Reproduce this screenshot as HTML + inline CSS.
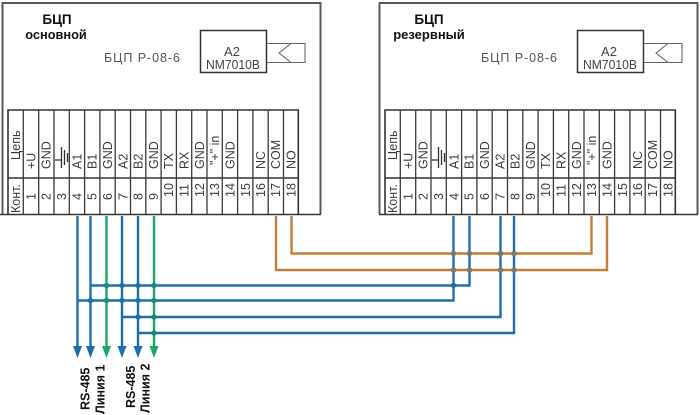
<!DOCTYPE html>
<html><head><meta charset="utf-8"><style>
html,body{margin:0;padding:0;background:#fff}
svg{display:block}
text{font-family:"Liberation Sans",sans-serif}
.t{font-size:12.5px;fill:#3c3c3c;stroke:none}
.b{font-weight:bold;fill:#111;stroke:none}
.g{font-size:12.5px;fill:#555;letter-spacing:.95px}
.a{font-size:13px;fill:#444;text-anchor:middle}
</style></head><body>
<svg width="700" height="415" viewBox="0 0 700 415" xmlns="http://www.w3.org/2000/svg">
<rect width="700" height="415" fill="#fff"/>

<!-- LEFT PANEL -->
<g>
<path d="M2.5 214V3H320.5V214" fill="none" stroke="#5a5a5a" stroke-width="2"/>
<path d="M0 214.5H321" stroke="#333" stroke-width="1.5"/>
<path d="M8 214V110H298.3V214M8 178H298.3" fill="none" stroke="#333" stroke-width="1.6"/>
<path d="M23.3 110V214M38.7 110V214M54 110V214M69.3 110V214M84.6 110V214M99.9 110V214M115.2 110V214M130.5 110V214M145.8 110V214M161.1 110V214M176.4 110V214M191.7 110V214M207 110V214M222.3 110V214M237.6 110V214M252.9 110V214M268.2 110V214M283.5 110V214" stroke="#3a3a3a" stroke-width="1.3" fill="none"/>
<text class="b" x="57" y="24" font-size="13.5" text-anchor="middle">БЦП</text>
<text class="b" x="56" y="39" font-size="12.8" text-anchor="middle">основной</text>
<text class="g" x="104" y="62">БЦП Р-08-6</text>
<rect x="200.5" y="30.5" width="66" height="42" fill="#fff" stroke="#333" stroke-width="1.5"/>
<text class="a" x="232" y="56">A2</text>
<text class="a" x="233" y="69" textLength="54" lengthAdjust="spacingAndGlyphs">NM7010B</text>
<path d="M267 43.5H305V62.5H267" fill="none" stroke="#666" stroke-width="1.1"/>
<path d="M291 43.5L279 53L291 62.5" fill="none" stroke="#666" stroke-width="1.1"/>
<text class="t" transform="translate(20,160) rotate(-90)">Цепь</text>
<text class="t" transform="translate(35.5,169) rotate(-90)">+U</text>
<text class="t" transform="translate(50.5,169) rotate(-90)">GND</text>
<text class="t" transform="translate(81.5,169) rotate(-90)">A1</text>
<text class="t" transform="translate(96.5,169) rotate(-90)">B1</text>
<text class="t" transform="translate(112,169) rotate(-90)">GND</text>
<text class="t" transform="translate(127.5,169) rotate(-90)">A2</text>
<text class="t" transform="translate(142.5,169) rotate(-90)">B2</text>
<text class="t" transform="translate(158,169) rotate(-90)">GND</text>
<text class="t" transform="translate(173,169) rotate(-90)">TX</text>
<text class="t" transform="translate(188.5,169) rotate(-90)">RX</text>
<text class="t" transform="translate(204,169) rotate(-90)">GND</text>
<text class="t" transform="translate(219,165) rotate(-90)">"+" in</text>
<text class="t" transform="translate(234.5,169) rotate(-90)">GND</text>
<text class="t" transform="translate(265,169) rotate(-90)">NC</text>
<text class="t" transform="translate(280,169) rotate(-90)">COM</text>
<text class="t" transform="translate(295.5,169) rotate(-90)">NO</text>
<text class="t" transform="translate(20,213) rotate(-90)">Конт.</text>
<text class="t" transform="translate(35.5,200) rotate(-90)">1</text>
<text class="t" transform="translate(50.5,200) rotate(-90)">2</text>
<text class="t" transform="translate(66,200) rotate(-90)">3</text>
<text class="t" transform="translate(81.5,200) rotate(-90)">4</text>
<text class="t" transform="translate(96.5,200) rotate(-90)">5</text>
<text class="t" transform="translate(112,200) rotate(-90)">6</text>
<text class="t" transform="translate(127.5,200) rotate(-90)">7</text>
<text class="t" transform="translate(142.5,200) rotate(-90)">8</text>
<text class="t" transform="translate(158,200) rotate(-90)">9</text>
<text class="t" transform="translate(173,197) rotate(-90)">10</text>
<text class="t" transform="translate(188.5,197) rotate(-90)">11</text>
<text class="t" transform="translate(204,197) rotate(-90)">12</text>
<text class="t" transform="translate(219,197) rotate(-90)">13</text>
<text class="t" transform="translate(234.5,197) rotate(-90)">14</text>
<text class="t" transform="translate(250,197) rotate(-90)">15</text>
<text class="t" transform="translate(265,197) rotate(-90)">16</text>
<text class="t" transform="translate(280,197) rotate(-90)">17</text>
<text class="t" transform="translate(295.5,197) rotate(-90)">18</text>
<path d="M55 160H61.5M61.5 147V168M64.5 150V165M67.5 153V162" fill="none" stroke="#333" stroke-width="1.3"/>
</g>

<!-- RIGHT PANEL -->
<g transform="translate(377,0)">
<path d="M2.5 214V3H320.5V214" fill="none" stroke="#5a5a5a" stroke-width="2"/>
<path d="M2 214.5H321" stroke="#333" stroke-width="1.5"/>
<path d="M8 214V110H298.3V214M8 178H298.3" fill="none" stroke="#333" stroke-width="1.6"/>
<path d="M23.3 110V214M38.7 110V214M54 110V214M69.3 110V214M84.6 110V214M99.9 110V214M115.2 110V214M130.5 110V214M145.8 110V214M161.1 110V214M176.4 110V214M191.7 110V214M207 110V214M222.3 110V214M237.6 110V214M252.9 110V214M268.2 110V214M283.5 110V214" stroke="#3a3a3a" stroke-width="1.3" fill="none"/>
<text class="b" x="52" y="24" font-size="13.5" text-anchor="middle">БЦП</text>
<text class="b" x="52" y="39" font-size="13" text-anchor="middle">резервный</text>
<text class="g" x="104" y="62">БЦП Р-08-6</text>
<rect x="200.5" y="30.5" width="66" height="42" fill="#fff" stroke="#333" stroke-width="1.5"/>
<text class="a" x="232" y="56">A2</text>
<text class="a" x="233" y="69" textLength="54" lengthAdjust="spacingAndGlyphs">NM7010B</text>
<path d="M267 43.5H305V62.5H267" fill="none" stroke="#666" stroke-width="1.1"/>
<path d="M291 43.5L279 53L291 62.5" fill="none" stroke="#666" stroke-width="1.1"/>
<text class="t" transform="translate(20,160) rotate(-90)">Цепь</text>
<text class="t" transform="translate(35.5,169) rotate(-90)">+U</text>
<text class="t" transform="translate(50.5,169) rotate(-90)">GND</text>
<text class="t" transform="translate(81.5,169) rotate(-90)">A1</text>
<text class="t" transform="translate(96.5,169) rotate(-90)">B1</text>
<text class="t" transform="translate(112,169) rotate(-90)">GND</text>
<text class="t" transform="translate(127.5,169) rotate(-90)">A2</text>
<text class="t" transform="translate(142.5,169) rotate(-90)">B2</text>
<text class="t" transform="translate(158,169) rotate(-90)">GND</text>
<text class="t" transform="translate(173,169) rotate(-90)">TX</text>
<text class="t" transform="translate(188.5,169) rotate(-90)">RX</text>
<text class="t" transform="translate(204,169) rotate(-90)">GND</text>
<text class="t" transform="translate(219,165) rotate(-90)">"+" in</text>
<text class="t" transform="translate(234.5,169) rotate(-90)">GND</text>
<text class="t" transform="translate(265,169) rotate(-90)">NC</text>
<text class="t" transform="translate(280,169) rotate(-90)">COM</text>
<text class="t" transform="translate(295.5,169) rotate(-90)">NO</text>
<text class="t" transform="translate(20,213) rotate(-90)">Конт.</text>
<text class="t" transform="translate(35.5,200) rotate(-90)">1</text>
<text class="t" transform="translate(50.5,200) rotate(-90)">2</text>
<text class="t" transform="translate(66,200) rotate(-90)">3</text>
<text class="t" transform="translate(81.5,200) rotate(-90)">4</text>
<text class="t" transform="translate(96.5,200) rotate(-90)">5</text>
<text class="t" transform="translate(112,200) rotate(-90)">6</text>
<text class="t" transform="translate(127.5,200) rotate(-90)">7</text>
<text class="t" transform="translate(142.5,200) rotate(-90)">8</text>
<text class="t" transform="translate(158,200) rotate(-90)">9</text>
<text class="t" transform="translate(173,197) rotate(-90)">10</text>
<text class="t" transform="translate(188.5,197) rotate(-90)">11</text>
<text class="t" transform="translate(204,197) rotate(-90)">12</text>
<text class="t" transform="translate(219,197) rotate(-90)">13</text>
<text class="t" transform="translate(234.5,197) rotate(-90)">14</text>
<text class="t" transform="translate(250,197) rotate(-90)">15</text>
<text class="t" transform="translate(265,197) rotate(-90)">16</text>
<text class="t" transform="translate(280,197) rotate(-90)">17</text>
<text class="t" transform="translate(295.5,197) rotate(-90)">18</text>
<path d="M55 160H61.5M61.5 147V168M64.5 150V165M67.5 153V162" fill="none" stroke="#333" stroke-width="1.3"/>
</g>

<!-- ORANGE WIRES -->
<g fill="none" stroke="#c57c3a" stroke-width="2.4">
<path d="M291.5 216V253.5H591.5V216"/>
<path d="M276 216V270H607V216"/>
</g>

<!-- BLUE WIRES -->
<g fill="none" stroke="#1f6eaa" stroke-width="2.4">
<path d="M90.5 347V216"/>
<path d="M77.5 347V216"/>
<path d="M122 347V216"/>
<path d="M138 347V216"/>
<path d="M90.5 285.5H469.5V216"/>
<path d="M77.5 300.5H453.5V216"/>
<path d="M122 317H500.5V216"/>
<path d="M138 333H514V216"/>
</g>

<!-- GREEN WIRES -->
<g fill="none" stroke="#1fa565" stroke-width="2.4">
<path d="M106.5 347V216"/>
<path d="M154 347V216"/>
</g>

<!-- ARROWHEADS -->
<g fill="#1f6eaa">
<path d="M73 346H82L77.5 358Z"/>
<path d="M86 346H95L90.5 358Z"/>
<path d="M117.5 346H126.5L122 358Z"/>
<path d="M133.5 346H142.5L138 358Z"/>
</g>
<g fill="#1fa565">
<path d="M102 346H111L106.5 358Z"/>
<path d="M149.5 346H158.5L154 358Z"/>
</g>

<!-- JUNCTIONS -->
<g fill="#1f6eaa">
<circle cx="122" cy="285.5" r="2.7"/><circle cx="138" cy="285.5" r="2.7"/>
<circle cx="90.5" cy="300.5" r="2.7"/><circle cx="122" cy="300.5" r="2.7"/><circle cx="138" cy="300.5" r="2.7"/>
<circle cx="138" cy="317" r="2.7"/>
<circle cx="453.5" cy="285.5" r="2.7"/>
</g>
<g fill="#1a8d68">
<circle cx="106.5" cy="285.5" r="2.7"/><circle cx="154" cy="285.5" r="2.7"/>
<circle cx="106.5" cy="300.5" r="2.7"/><circle cx="154" cy="300.5" r="2.7"/>
<circle cx="154" cy="317" r="2.7"/><circle cx="154" cy="333" r="2.7"/>
</g>
<g fill="#7f7a6a">
<circle cx="453.5" cy="253.5" r="2.8"/><circle cx="469.5" cy="253.5" r="2.8"/><circle cx="500.5" cy="253.5" r="2.8"/><circle cx="514" cy="253.5" r="2.8"/>
<circle cx="453.5" cy="270" r="2.8"/><circle cx="469.5" cy="270" r="2.8"/><circle cx="500.5" cy="270" r="2.8"/><circle cx="514" cy="270" r="2.8"/>
</g>

<!-- BOTTOM LABELS -->
<g class="b" font-size="12.5">
<text class="b" transform="translate(89.5,410) rotate(-90)">RS-485</text>
<text class="b" transform="translate(104.5,414) rotate(-90)">Линия 1</text>
<text class="b" transform="translate(135,408) rotate(-90)">RS-485</text>
<text class="b" transform="translate(149.5,413) rotate(-90)">Линия 2</text>
</g>
</svg>
</body></html>
